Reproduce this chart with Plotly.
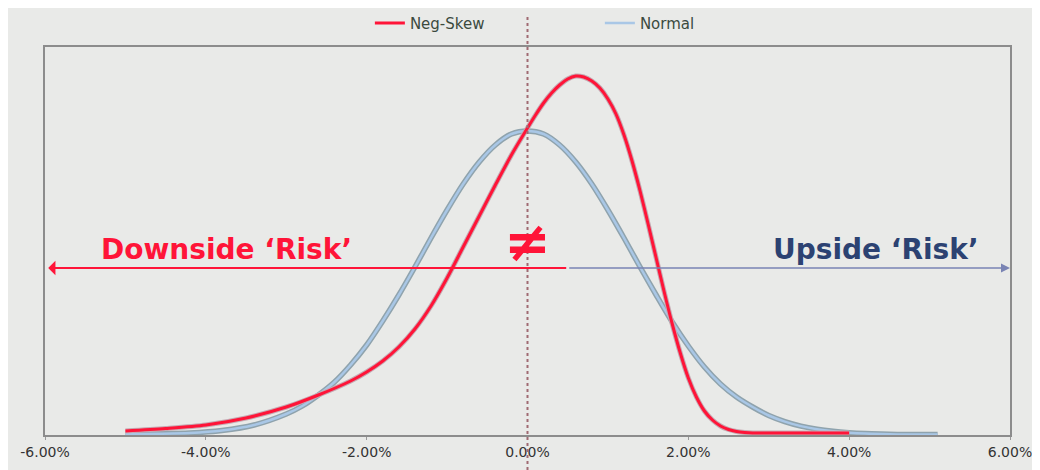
import plotly.graph_objects as go

# ---- data (x in %, y = relative density) ----
normal_x = [-5.0, -4.6, -4.2, -3.8, -3.4, -3.0, -2.8, -2.6, -2.4, -2.2, -2.0, -1.8, -1.6, -1.4,
            -1.2, -1.0, -0.8, -0.6, -0.4, -0.2, 0.0, 0.2, 0.4, 0.6, 0.8, 1.0, 1.2, 1.4, 1.6,
            1.8, 2.0, 2.2, 2.4, 2.6, 2.8, 3.0, 3.2, 3.4, 3.6, 3.8, 4.0, 4.2, 4.4, 4.6, 4.8, 5.0, 5.1]
normal_y = [0.0008, 0.0012, 0.002, 0.0045, 0.010, 0.021, 0.029, 0.040, 0.053, 0.070, 0.090,
            0.114, 0.140, 0.168, 0.197, 0.225, 0.251, 0.273, 0.290, 0.301, 0.304, 0.301, 0.290,
            0.273, 0.251, 0.225, 0.197, 0.168, 0.140, 0.113, 0.089, 0.068, 0.051, 0.038, 0.028,
            0.0195, 0.0134, 0.0089, 0.0058, 0.0037, 0.0023, 0.0014, 0.0009, 0.0006, 0.0005,
            0.0005, 0.0005]

skew_x = [-5.0, -4.5, -4.0, -3.5, -3.0, -2.6, -2.2, -2.0, -1.8, -1.6, -1.4, -1.2, -1.0, -0.8,
          -0.6, -0.4, -0.2, 0.0, 0.1, 0.2, 0.3, 0.4, 0.5, 0.6, 0.7, 0.8, 0.9, 1.0, 1.1, 1.2,
          1.3, 1.4, 1.5, 1.6, 1.7, 1.8, 1.9, 2.0, 2.1, 2.2, 2.3, 2.4, 2.5, 2.6, 2.7, 2.8,
          3.0, 3.5, 4.0]
skew_y = [0.004, 0.0065, 0.010, 0.017, 0.028, 0.040, 0.054, 0.063, 0.074, 0.088, 0.106, 0.129,
          0.157, 0.188, 0.219, 0.250, 0.280, 0.307, 0.320, 0.332, 0.342, 0.350, 0.356, 0.359,
          0.358, 0.354, 0.347, 0.336, 0.321, 0.300, 0.274, 0.244, 0.211, 0.177, 0.143, 0.111,
          0.082, 0.057, 0.038, 0.024, 0.015, 0.009, 0.0055, 0.0035, 0.0025, 0.002, 0.002,
          0.002, 0.002]

tick_vals = [-6, -4, -2, 0, 2, 4, 6]
tick_text = ["-6.00%", "-4.00%", "-2.00%", "0.00%", "2.00%", "4.00%", "6.00%"]

series_names = ["Neg-Skew", "Normal"]
mean_x = 0.0
arrow_y = 0.167
arrow_left = -5.96
arrow_split = 0.5
arrow_right = 6.0

BG = "#e9eae8"
RED = "#ff1438"
BLUE = "#a9c7e6"

fig = go.Figure()

# outlines (drawn first, hidden from legend)
fig.add_trace(go.Scatter(x=normal_x, y=normal_y, mode="lines",
                         line=dict(color="#8fa3ad", width=5.5, shape="spline", smoothing=0.8),
                         showlegend=False, hoverinfo="skip"))
fig.add_trace(go.Scatter(x=normal_x, y=normal_y, mode="lines", name=series_names[1],
                         line=dict(color=BLUE, width=2.5, shape="spline", smoothing=0.8),
                         legendrank=2))
fig.add_trace(go.Scatter(x=skew_x, y=skew_y, mode="lines",
                         line=dict(color="#c6a9b2", width=5, shape="spline", smoothing=0.8),
                         showlegend=False, hoverinfo="skip"))
fig.add_trace(go.Scatter(x=skew_x, y=skew_y, mode="lines", name=series_names[0],
                         line=dict(color=RED, width=3, shape="spline", smoothing=0.8),
                         legendrank=1))

# dotted mean line
fig.add_shape(type="line", xref="x", yref="paper", x0=mean_x, x1=mean_x, y0=-0.09, y1=1.085,
              line=dict(color="#a06a72", width=2, dash="dot"), layer="above")

# arrows
fig.add_annotation(x=arrow_left, y=arrow_y, ax=arrow_split, ay=arrow_y, xref="x", yref="y",
                   axref="x", ayref="y", showarrow=True, arrowhead=1, arrowsize=1.2,
                   arrowwidth=2, arrowcolor=RED, text="")
fig.add_annotation(x=arrow_right, y=arrow_y, ax=arrow_split, ay=arrow_y, xref="x", yref="y",
                   axref="x", ayref="y", showarrow=True, arrowhead=2, arrowsize=1.2,
                   arrowwidth=1.5, arrowcolor="#7a84b4", text="")

# texts
fig.add_annotation(x=-3.74, y=0.186, xref="x", yref="y", showarrow=False,
                   text="Downside ‘Risk’",
                   font=dict(family="DejaVu Sans", size=28, color=RED, weight="bold"))
fig.add_annotation(x=4.33, y=0.186, xref="x", yref="y", showarrow=False,
                   text="Upside ‘Risk’",
                   font=dict(family="DejaVu Sans", size=28, color="#2c4272", weight="bold"))
fig.add_annotation(x=mean_x, y=0.194, xref="x", yref="y", showarrow=False,
                   text="≠",
                   font=dict(family="DejaVu Sans", size=56, color=RED, weight="bold"))

# page body has an 8px default margin, so the figure is sized/offset to compensate
fig.update_layout(
    width=1032, height=462,
    paper_bgcolor=BG, plot_bgcolor=BG,
    margin=dict(l=37, r=30, t=39, b=35, autoexpand=False),
    font=dict(family="DejaVu Sans", size=14, color="#333333"),
    legend=dict(orientation="h", x=0.575, xanchor="center", y=1.061, yanchor="middle",
                bgcolor="rgba(0,0,0,0)", font=dict(family="DejaVu Sans", size=15, color="#3b4a3e"),
                entrywidth=185, entrywidthmode="pixels", traceorder="normal"),
    showlegend=True,
)
fig.update_xaxes(range=[-6, 6], tickvals=tick_vals, ticktext=tick_text, showgrid=False,
                 zeroline=False, showline=True, linecolor="#8c8c8c", linewidth=2, mirror=True,
                 ticks="outside", ticklen=3, tickcolor="#9a9a9a",
                 tickfont=dict(family="DejaVu Sans", size=14, color="#333333"))
fig.update_yaxes(range=[0, 0.388], showticklabels=False, showgrid=False, zeroline=False,
                 showline=True, linecolor="#8c8c8c", linewidth=2, mirror=True, ticks="")

fig.write_html("out.html")
